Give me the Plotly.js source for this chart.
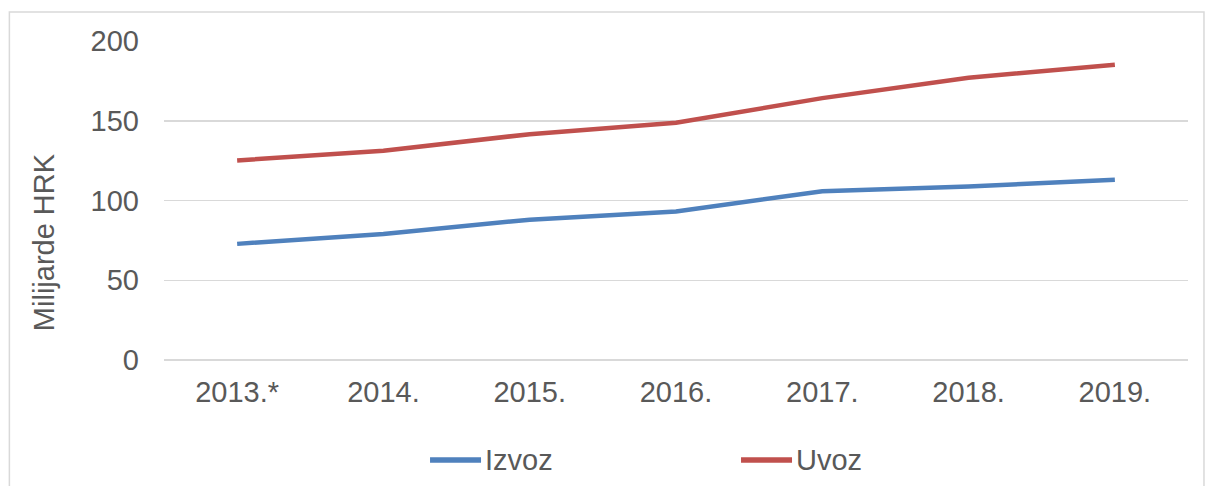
<!DOCTYPE html>
<html>
<head>
<meta charset="utf-8">
<script src="https://cdn.plot.ly/plotly-3.0.1.min.js"></script>
<style>
html,body{margin:0;padding:0;background:#fff;}
#chart{width:1205px;height:486px;}
</style>
</head>
<body>
<div id="chart"></div>
<script>
const categories = ["2013.*", "2014.", "2015.", "2016.", "2017.", "2018.", "2019."];
const izvoz = [72.8, 79.0, 88.0, 93.1, 105.8, 108.8, 113.0];
const uvoz = [125.1, 131.2, 141.6, 148.7, 164.2, 177.0, 185.1];
const seriesNames = ["Izvoz", "Uvoz"];
const seriesColors = ["#4f81bd", "#c0504d"];
const yTicks = [0, 50, 100, 150, 200];
const yTitle = "Milijarde HRK";

const textColor = "#595959";
const fontFam = "Liberation Sans, Arial, sans-serif";
const fs = 29;

const traces = [izvoz, uvoz].map((vals, i) => ({
  type: "scatter",
  mode: "lines",
  x: categories,
  y: vals,
  name: seriesNames[i],
  line: {color: seriesColors[i], width: 4.5},
  showlegend: false
}));

// custom legend (line sample + label)
const legX = [[0.2598, 0.3096, 0.3125], [0.5635, 0.6133, 0.6162]];
const legY = -0.3135;
const shapes = [{
  type: "rect", xref: "paper", yref: "paper",
  x0: -0.151, x1: 1.0156, y0: -0.45, y1: 1.091,
  line: {color: "#d9d9d9", width: 1.5}, fillcolor: "rgba(0,0,0,0)", layer: "below"
}];
const annotations = [{
  xref: "paper", yref: "paper", x: -0.117, y: 0.37,
  xanchor: "center", yanchor: "middle", showarrow: false, textangle: -90,
  text: yTitle, font: {family: fontFam, size: fs, color: textColor}
}];
seriesNames.forEach((n, i) => {
  shapes.push({
    type: "line", xref: "paper", yref: "paper",
    x0: legX[i][0], x1: legX[i][1], y0: legY, y1: legY,
    line: {color: seriesColors[i], width: 5.5}
  });
  annotations.push({
    xref: "paper", yref: "paper", x: legX[i][2], y: legY,
    xanchor: "left", yanchor: "middle", showarrow: false,
    text: n, font: {family: fontFam, size: fs, color: textColor}, borderpad: 0
  });
});

const layout = {
  width: 1205, height: 486,
  margin: {l: 164, r: 17, t: 41, b: 126},
  paper_bgcolor: "#ffffff",
  plot_bgcolor: "#ffffff",
  font: {family: fontFam, size: fs, color: textColor},
  xaxis: {
    type: "category",
    range: [-0.5, 6.5],
    showgrid: false,
    showline: false,
    zeroline: false,
    ticks: "",
    ticklabelstandoff: 12,
    tickfont: {family: fontFam, size: fs, color: textColor}
  },
  yaxis: {
    range: [0, 200],
    tickvals: yTicks,
    showgrid: true,
    gridcolor: "#d9d9d9",
    gridwidth: 1.5,
    zeroline: true,
    zerolinecolor: "#d9d9d9",
    zerolinewidth: 1.5,
    showline: false,
    ticks: "",
    ticklabelstandoff: 24,
    tickfont: {family: fontFam, size: fs, color: textColor}
  },
  shapes: shapes,
  annotations: annotations,
  showlegend: false
};

Plotly.newPlot("chart", traces, layout, {displayModeBar: false, staticPlot: true});
</script>
</body>
</html>
